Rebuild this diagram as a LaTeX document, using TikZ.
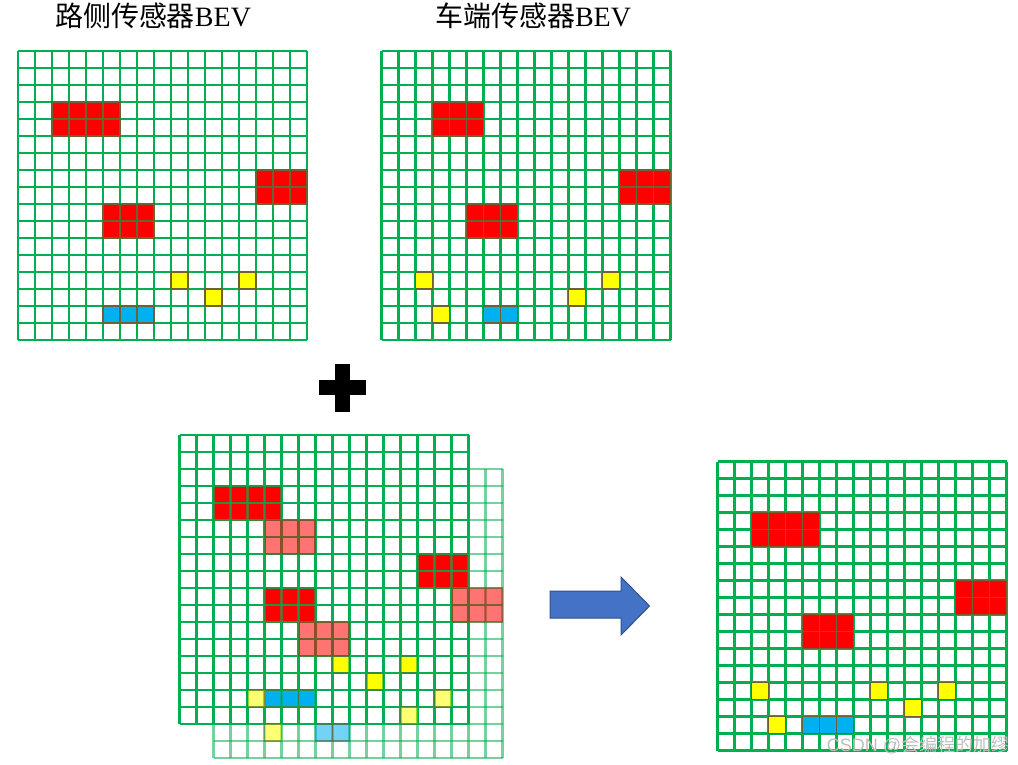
\documentclass[tikz,border=0pt]{standalone}
\usepackage{fontspec}
\setmainfont{Liberation Serif}
\newfontfamily\cjk{Noto Sans CJK SC}
\newfontfamily\wmfont{Liberation Sans}
\definecolor{gridgreen}{RGB}{0,176,80}
\definecolor{cellred}{RGB}{255,0,0}
\definecolor{cellyellow}{RGB}{255,255,0}
\definecolor{cellblue}{RGB}{0,176,240}
\definecolor{celledge}{RGB}{105,100,50}
\definecolor{arrowfill}{RGB}{68,114,196}
\definecolor{arrowedge}{RGB}{47,82,143}
\definecolor{wmgray}{RGB}{190,190,190}
\tikzset{
  gridline/.style={draw=gridgreen, line width=2.2pt},
  cellbox/.style={draw=celledge, line width=1.2pt},
  title/.style={font=\fontsize{28}{32}\selectfont, inner sep=0pt, anchor=center},
  wm/.style={font=\fontsize{18}{20}\selectfont, text=wmgray, inner sep=0pt},
}
\newcommand\bevlines{%
  \foreach \k in {0,...,17}{%
    \draw[gridline] ({17*\k},0) -- ({17*\k},289);
    \draw[gridline] (0,{17*\k}) -- (289,{17*\k});
  }%
}
\newcommand\blk[5]{%
  \foreach \i in {1,...,#3}{%
    \foreach \j in {1,...,#4}{%
      \filldraw[cellbox, fill=#5] ({17*(#1+\i-1)},{17*(#2+\j-1)}) rectangle ++(17,17);
    }%
  }%
}
\begin{document}
\begin{tikzpicture}[x=1pt, y=-1pt]
\useasboundingbox[fill=white] (0,0) rectangle (1018,765);

% titles
\node[title] (t1) at (153,16) {{\cjk 路侧传感器}BEV};
\node[title] (t2) at (533,16) {{\cjk 车端传感器}BEV};

% grid 1: roadside
\begin{scope}[shift={(18,51)}]
  \bevlines
  \blk{2}{3}{4}{2}{cellred}
  \blk{14}{7}{3}{2}{cellred}
  \blk{5}{9}{3}{2}{cellred}
  \blk{9}{13}{1}{1}{cellyellow}
  \blk{13}{13}{1}{1}{cellyellow}
  \blk{11}{14}{1}{1}{cellyellow}
  \blk{5}{15}{3}{1}{cellblue}
\end{scope}

% grid 2: vehicle
\begin{scope}[shift={(381.5,51)}]
  \bevlines
  \blk{3}{3}{3}{2}{cellred}
  \blk{14}{7}{3}{2}{cellred}
  \blk{5}{9}{3}{2}{cellred}
  \blk{2}{13}{1}{1}{cellyellow}
  \blk{13}{13}{1}{1}{cellyellow}
  \blk{11}{14}{1}{1}{cellyellow}
  \blk{3}{15}{1}{1}{cellyellow}
  \blk{6}{15}{2}{1}{cellblue}
\end{scope}

% plus sign
\fill[black] (335,363.5) rectangle (350,411.5);
\fill[black] (318.5,380) rectangle (366,395);

% overlay: front (roadside)
\begin{scope}[shift={(179.5,435)}]
  \bevlines
  \blk{2}{3}{4}{2}{cellred}
  \blk{14}{7}{3}{2}{cellred}
  \blk{5}{9}{3}{2}{cellred}
  \blk{9}{13}{1}{1}{cellyellow}
  \blk{13}{13}{1}{1}{cellyellow}
  \blk{11}{14}{1}{1}{cellyellow}
  \blk{5}{15}{3}{1}{cellblue}
\end{scope}
% overlay: back (vehicle), shifted by two cells, semi-transparent
\begin{scope}[shift={(213.5,469)}, opacity=0.55]
  \bevlines
  \blk{3}{3}{3}{2}{cellred}
  \blk{14}{7}{3}{2}{cellred}
  \blk{5}{9}{3}{2}{cellred}
  \blk{2}{13}{1}{1}{cellyellow}
  \blk{13}{13}{1}{1}{cellyellow}
  \blk{11}{14}{1}{1}{cellyellow}
  \blk{3}{15}{1}{1}{cellyellow}
  \blk{6}{15}{2}{1}{cellblue}
\end{scope}

% arrow
\filldraw[fill=arrowfill, draw=arrowedge, line width=1pt, line join=miter]
  (550,591) -- (621,591) -- (621,577) -- (649.5,606) -- (621,635) -- (621,618) -- (550,618) -- cycle;

% result grid
\begin{scope}[shift={(717.5,461.5)}]
  \bevlines
  \blk{2}{3}{4}{2}{cellred}
  \blk{14}{7}{3}{2}{cellred}
  \blk{5}{9}{3}{2}{cellred}
  \blk{2}{13}{1}{1}{cellyellow}
  \blk{9}{13}{1}{1}{cellyellow}
  \blk{13}{13}{1}{1}{cellyellow}
  \blk{11}{14}{1}{1}{cellyellow}
  \blk{3}{15}{1}{1}{cellyellow}
  \blk{5}{15}{3}{1}{cellblue}
\end{scope}

% watermark
\node[wm] (wmark) at (918,745) {\wmfont CSDN @{\cjk 会编程的加缪}};
\end{tikzpicture}
\end{document}
